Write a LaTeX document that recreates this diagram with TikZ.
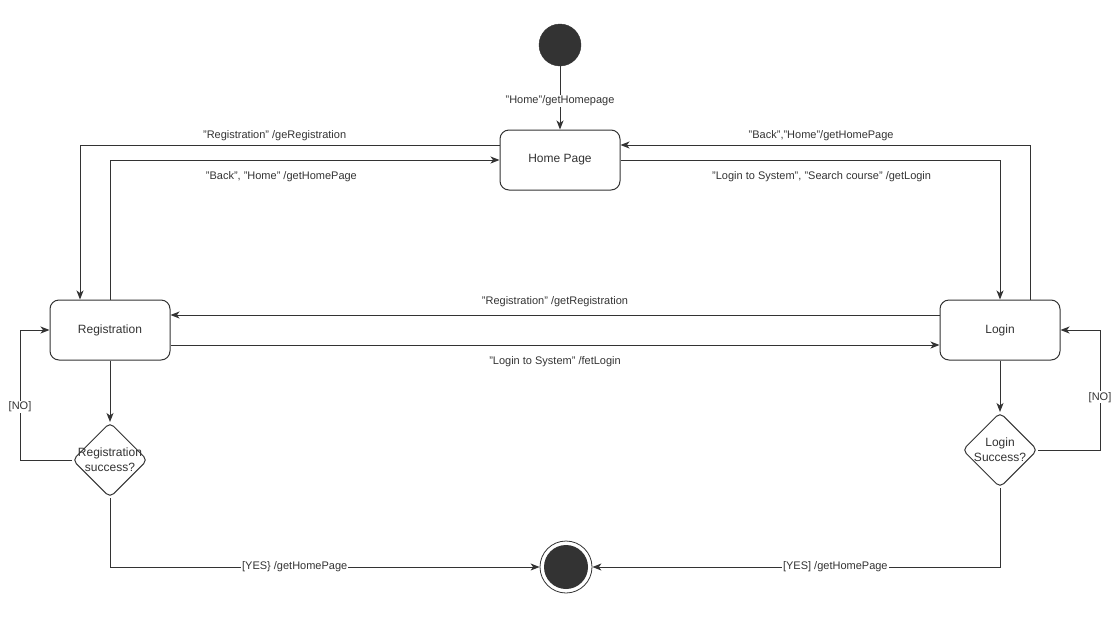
\documentclass[tikz,border=0pt]{standalone}
\usepackage{fontspec}
\setmainfont{Liberation Sans}
\usetikzlibrary{arrows.meta,shapes.geometric}
\definecolor{ink}{HTML}{333333}
\begin{document}
\begin{tikzpicture}[x=1pt,y=-1pt,
  every node/.style={text=ink},
  state/.style={draw=ink,line width=1pt,rounded corners=9pt,fill=white,
    minimum width=120pt,minimum height=60pt,font=\fontsize{12}{14}\selectfont},
  decision/.style={draw=ink,line width=1pt,diamond,rounded corners=5pt,fill=white,
    minimum width=75pt,minimum height=75pt,inner sep=0pt},
  dtext/.style={font=\fontsize{12}{15}\selectfont,align=center},
  flow/.style={draw=ink,line width=1pt,-{Stealth[length=9pt,width=7pt,inset=2.5pt]}},
  lbl/.style={font=\fontsize{11}{13}\selectfont,inner sep=1pt},
  onlbl/.style={lbl,fill=white}]
\useasboundingbox (0,0) rectangle (1120,630);

% start and end points
\node (start) [circle,fill=ink,draw=ink,minimum size=42pt,inner sep=0pt] at (560,45) {};
\node (stop) [circle,draw=ink,line width=0.8pt,fill=white,minimum size=52pt,inner sep=0pt] at (566,567) {};
\node (stopdot) [circle,fill=ink,minimum size=44pt,inner sep=0pt] at (566,567) {};

% states
\node (home) [state] at (560,160) {Home Page};
\node (reg) [state] at (110,330) {Registration};
\node (login) [state] at (1000,330) {Login};

% decisions
\node (rdec) [decision] at (110,460) {};
\node (rdect) [dtext] at (110,460) {Registration\\success?};
\node (ldec) [decision] at (1000,450) {};
\node (ldect) [dtext] at (1000,450) {Login\\Success?};

% bend points
\coordinate (c1) at (80,145);
\coordinate (c2) at (110,160);
\coordinate (c3) at (1000,160);
\coordinate (c4) at (1030,145);
\coordinate (c5) at (20,460);
\coordinate (c6) at (20,330);
\coordinate (c7) at (1100,450);
\coordinate (c8) at (1100,330);
\coordinate (c9) at (110,567);
\coordinate (c10) at (1000,567);

% transitions
\draw[flow] (start) -- node[onlbl,pos=0.55]{"Home"/getHomepage} (home);

\draw[flow] (home.west |- c1) -- node[lbl,above,pos=0.536,yshift=3pt]{"Registration" /geRegistration} (c1) -- (reg.north -| c1);
\draw[flow] (reg.north -| c2) -- (c2) -- node[lbl,below,pos=0.44,yshift=-10pt]{"Back", "Home" /getHomePage} (home.west |- c2);

\draw[flow] (home.east |- c3) -- node[lbl,below,pos=0.53,yshift=-10pt]{"Login to System", "Search course" /getLogin} (c3) -- (login.north -| c3);
\draw[flow] (login.north -| c4) -- (c4) -- node[lbl,above,pos=0.51,yshift=3pt]{"Back","Home"/getHomePage} (home.east |- c4);

\draw[flow] ([yshift=15pt]login.west) -- node[lbl,above,pos=0.50,yshift=7pt]{"Registration" /getRegistration} ([yshift=15pt]reg.east);
\draw[flow] ([yshift=-15pt]reg.east) -- node[lbl,below,pos=0.50,yshift=-10pt]{"Login to System" /fetLogin} ([yshift=-15pt]login.west);

\draw[flow] (reg) -- (rdec);
\draw[flow] (rdec.west) -- (c5) -- node[onlbl,pos=0.41]{[NO]} (c6) -- (reg.west);

\draw[flow] (login) -- (ldec);
\draw[flow] (ldec.east) -- (c7) -- node[onlbl,pos=0.44]{[NO]} (c8) -- (login.east);

\draw[flow] (rdec.south) -- (c9) -- node[onlbl,pos=0.43]{[YES\} /getHomePage} (stop.west);
\draw[flow] (ldec.south) -- (c10) -- node[onlbl,pos=0.404]{[YES] /getHomePage} (stop.east);
\end{tikzpicture}
\end{document}
